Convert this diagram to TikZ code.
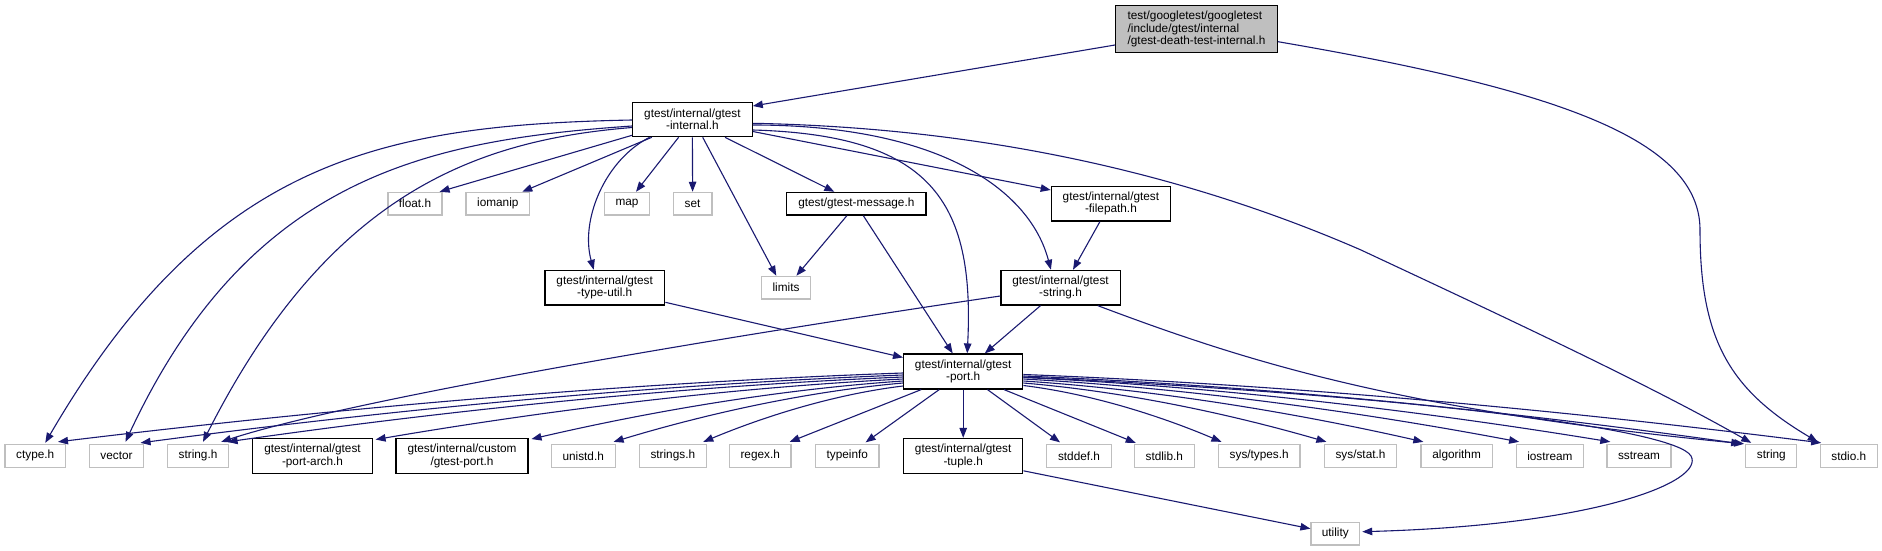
\documentclass[tikz,border=0pt]{standalone}
\usepackage{fontspec}
\setmainfont{Liberation Sans}
\usetikzlibrary{arrows.meta}
\definecolor{edgeblue}{RGB}{25,25,112}
\definecolor{extgray}{RGB}{191,191,191}
\begin{document}
\begin{tikzpicture}[x=1pt,y=-1pt,
  box/.style={rectangle,inner sep=0pt,line width=1.2pt,font=\fontsize{11.8}{12.3}\selectfont,align=center},
  ext/.style={box,draw=extgray,fill=white,minimum height=22.7pt},
  doc/.style={box,draw=black,fill=white,minimum height=34.7pt},
  doc1/.style={box,draw=black,fill=white,minimum height=22.7pt},
  rootbox/.style={box,draw=black,fill=extgray,align=left,minimum width=161.7pt,minimum height=47pt},
  edge/.style={draw=edgeblue,line width=1.1pt,-{Triangle[length=10pt,width=7.5pt]}}]
\useasboundingbox (0,0) rectangle (1882,551);
% nodes
\node[rootbox] (root) at (1196.5,29.2) {test/googletest/googletest\\/include/gtest/internal\\/gtest-death-test-internal.h};
\node[doc,minimum width=119.6pt,minimum height=34.4pt] (internal) at (692.4,119.5) {gtest/internal/gtest\\-internal.h};
\node[ext,minimum width=54pt] (float) at (415,203.7) {float.h};
\node[ext,minimum width=63.5pt] (iomanip) at (497.8,203.7) {iomanip};
\node[ext,minimum width=45pt] (map) at (627,203.7) {map};
\node[ext,minimum width=38.8pt] (set) at (692.6,203.7) {set};
\node[doc1,minimum width=139.3pt] (message) at (856.3,203.7) {gtest/gtest-message.h};
\node[doc,minimum width=119.2pt] (filepath) at (1110.9,203.7) {gtest/internal/gtest\\-filepath.h};
\node[doc,minimum width=119.3pt] (typeutil) at (604.7,287.7) {gtest/internal/gtest\\-type-util.h};
\node[ext,minimum width=48.7pt] (limits) at (786,287.7) {limits};
\node[doc,minimum width=119.2pt] (gstring) at (1060.5,287.7) {gtest/internal/gtest\\-string.h};
\node[doc,minimum width=119.2pt,minimum height=35pt] (port) at (963.2,371.5) {gtest/internal/gtest\\-port.h};
\node[ext,minimum width=60.7pt] (ctype) at (35.25,455.8) {ctype.h};
\node[ext,minimum width=54.4pt] (vector) at (116.5,455.8) {vector};
\node[ext,minimum width=61.2pt] (stringh) at (198,455.8) {string.h};
\node[doc,minimum width=119.6pt] (portarch) at (312.5,455.8) {gtest/internal/gtest\\-port-arch.h};
\node[doc,minimum width=132pt] (custom) at (462,455.8) {gtest/internal/custom\\/gtest-port.h};
\node[ext,minimum width=64pt] (unistd) at (583.2,455.8) {unistd.h};
\node[ext,minimum width=67pt] (strings) at (672.8,455.8) {strings.h};
\node[ext,minimum width=61.5pt] (regex) at (760.2,455.8) {regex.h};
\node[ext,minimum width=63.4pt] (typeinfo) at (847.3,455.8) {typeinfo};
\node[doc,minimum width=119.2pt] (tuple) at (963.2,455.8) {gtest/internal/gtest\\-tuple.h};
\node[ext,minimum width=64.3pt] (stddef) at (1079,455.8) {stddef.h};
\node[ext,minimum width=59.8pt] (stdlib) at (1164.3,455.8) {stdlib.h};
\node[ext,minimum width=81.7pt] (systypes) at (1259.2,455.8) {sys/types.h};
\node[ext,minimum width=72.2pt] (sysstat) at (1360.5,455.8) {sys/stat.h};
\node[ext,minimum width=71.3pt] (algorithm) at (1456.6,455.8) {algorithm};
\node[ext,minimum width=67.4pt] (iostream) at (1549.9,455.8) {iostream};
\node[ext,minimum width=64pt] (sstream) at (1639,455.8) {sstream};
\node[ext,minimum width=51pt] (string) at (1771.3,455.8) {string};
\node[ext,minimum width=57pt] (stdio) at (1848.8,455.8) {stdio.h};
\node[ext,minimum width=48.6pt] (utility) at (1335.3,533.7) {utility};
% root edges
\draw[edge] ([shift={(0,15.8)}]root.west) -- ([shift={(0,-13.5)}]internal.east);
\draw[edge] ([shift={(0,12.5)}]root.east) .. controls (1560,90) and (1700,140) .. (1700,230) .. controls (1700,340) and (1730,390) .. ([shift={(-2,-2)}]stdio.north west);
% internal edges
\draw[edge] ([shift={(0,10.5)}]internal.east) .. controls (930,135) and (975,200) .. ([shift={(4,0)}]port.north);
\draw[edge] ([shift={(0,5.5)}]internal.east) .. controls (940,125) and (1030,190) .. ([shift={(-9.6,0)}]gstring.north);
\draw[edge] ([shift={(0,3.8)}]internal.east) .. controls (1000,128) and (1200,180) .. (1361,250) .. controls (1500,315) and (1650,385) .. ([shift={(6,-1)}]string.north west);
\draw[edge] ([shift={(0,12)}]internal.east) -- ([shift={(0,-13.7)}]filepath.west);
\draw[edge] ([shift={(32.6,0)}]internal.south) -- ([shift={(-22,0)}]message.north);
\draw[edge] ([shift={(10.3,0)}]internal.south) -- ([shift={(-9.7,0)}]limits.north);
\draw[edge] (internal.south) -- (set.north);
\draw[edge] ([shift={(-13.8,0)}]internal.south) -- ([shift={(9,0)}]map.north);
\draw[edge] ([shift={(-42.8,0)}]internal.south) .. controls (605,160) and (580,220) .. ([shift={(-11,0)}]typeutil.north);
\draw[edge] ([shift={(-40.6,0)}]internal.south) -- ([shift={(24.5,0)}]iomanip.north);
\draw[edge] ([shift={(0,-2)}]internal.south west) -- ([shift={(-3,0)}]float.north east);
\draw[edge] ([shift={(0,0.5)}]internal.west) .. controls (380,125) and (210,160) .. ([shift={(10,-1)}]ctype.north);
\draw[edge] ([shift={(0,6.5)}]internal.west) .. controls (430,140) and (250,175) .. ([shift={(9,-2)}]vector.north);
\draw[edge] ([shift={(0,8)}]internal.west) .. controls (480,140) and (330,190) .. ([shift={(5,-2)}]stringh.north);
% message, filepath, typeutil, gstring
\draw[edge] ([shift={(-9.4,0)}]message.south) -- ([shift={(10.4,0)}]limits.north);
\draw[edge] ([shift={(7,0)}]message.south) -- ([shift={(-10.5,0)}]port.north);
\draw[edge] ([shift={(-11,0)}]filepath.south) -- ([shift={(12.5,0)}]gstring.north);
\draw[edge] ([shift={(0.4,14.6)}]typeutil.east) -- ([shift={(0,-14)}]port.west);
\draw[edge] ([shift={(-20,0)}]gstring.south) -- ([shift={(21.6,0)}]port.north);
\draw[edge] ([shift={(0,8.3)}]gstring.west) .. controls (700,340) and (350,400) .. ([shift={(-8,-2)}]stringh.north east);
\draw[edge] ([shift={(37.3,0)}]gstring.south) .. controls (1250,363) and (1400,410) .. ([shift={(-1,0)}]string.north west);
% port left fan
\draw[edge] ([shift={(0,1.5)}]port.west) .. controls (607.6,383.4) and (311.7,411.1) .. ([shift={(22.75,-2)}]ctype.north);
\draw[edge] ([shift={(0,3.5)}]port.west) .. controls (636.3,385.2) and (369.1,412.6) .. ([shift={(-3.75,-1)}]vector.north east);
\draw[edge] ([shift={(0,5.5)}]port.west) .. controls (666.8,386.8) and (430,412.9) .. ([shift={(-1.6,-2)}]stringh.north east);
\draw[edge] ([shift={(0,7.5)}]port.west) .. controls (718.6,388.2) and (533.6,412.6) .. ([shift={(2.7,1.7)}]portarch.north east);
\draw[edge] ([shift={(0,9.5)}]port.west) .. controls (773.2,389.8) and (642.8,413.2) .. ([shift={(2.9,1.2)}]custom.north east);
\draw[edge] ([shift={(0,11.5)}]port.west) .. controls (801.9,391.9) and (700.2,415.6) .. ([shift={(-2.2,-2)}]unistd.north east);
\draw[edge] ([shift={(0,14.5)}]port.west) .. controls (833.3,394.4) and (763,417) .. ([shift={(-3.6,-2)}]strings.north east);
% port bottom
\draw[edge] ([shift={(-42,0)}]port.south) -- ([shift={(29.5,-2)}]regex.north);
\draw[edge] ([shift={(-24,0)}]port.south) -- ([shift={(18.3,-1.5)}]typeinfo.north);
\draw[edge] (port.south) -- (tuple.north);
\draw[edge] ([shift={(24.3,0)}]port.south) -- ([shift={(-19,-1.5)}]stddef.north);
\draw[edge] ([shift={(40.8,0)}]port.south) -- ([shift={(-28.6,-1)}]stdlib.north);
% port right fan
\draw[edge] ([shift={(0,14)}]port.east) .. controls (1092.5,394) and (1162.2,416.7) .. ([shift={(3.7,-2)}]systypes.north west);
\draw[edge] ([shift={(0,11.5)}]port.east) .. controls (1129.3,391.9) and (1235.7,415.6) .. ([shift={(2.6,-2)}]sysstat.north west);
\draw[edge] ([shift={(0,9.5)}]port.east) .. controls (1163.2,390.2) and (1303.6,414.7) .. ([shift={(3,-2)}]algorithm.north west);
\draw[edge] ([shift={(0,7.5)}]port.east) .. controls (1196.7,388.5) and (1370.6,413.8) .. ([shift={(3.5,-2)}]iostream.north west);
\draw[edge] ([shift={(0,6)}]port.east) .. controls (1228.7,387.2) and (1434.5,413.1) .. ([shift={(3.9,-2)}]sstream.north west);
\draw[edge] ([shift={(0,4.5)}]port.east) .. controls (1274.5,386.2) and (1526.2,413.4) .. ([shift={(-4,0)}]string.north west);
\draw[edge] ([shift={(0,3)}]port.east) .. controls (1301.8,385.2) and (1580.8,412.4) .. ([shift={(1.5,-1)}]stdio.north west);
\draw[edge] ([shift={(0,5.5)}]port.east) .. controls (1400,395) and (1675,428) .. (1691,456) .. controls (1705,481) and (1600,525) .. ([shift={(2,-2)}]utility.east);
% tuple
\draw[edge] ([shift={(0,15)}]tuple.east) -- ([shift={(0,-5)}]utility.west);
\end{tikzpicture}
\end{document}
